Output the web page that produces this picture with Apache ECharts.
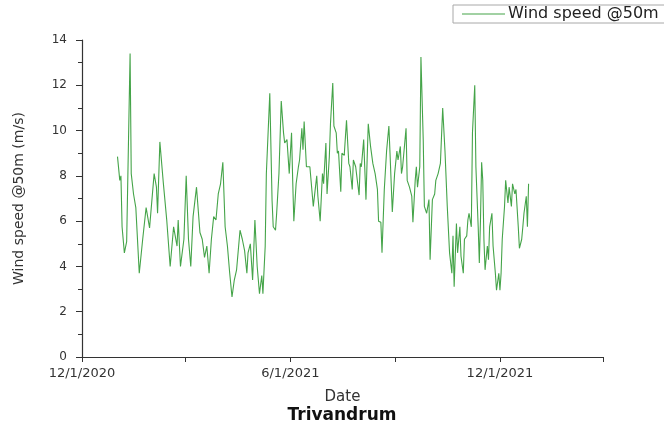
<!DOCTYPE html>
<html>
<head>
<meta charset="utf-8">
<title>Wind speed @50m - Trivandrum</title>
<script src="https://cdn.jsdelivr.net/npm/echarts@6/dist/echarts.min.js"></script>
<style>
  html, body { margin: 0; padding: 0; background: #fff; }
  #chart { width: 664px; height: 425px; }
</style>
</head>
<body>
<div id="chart"></div>
<script>
// days counted from 1 Jan 2021
var dayOffsets = [0, 2, 3, 4, 6, 8, 11, 12, 14, 16, 19, 22, 25, 28, 32, 34, 35, 37, 40, 43,
  46, 49, 52, 53, 55, 58, 60, 62, 64, 66, 69, 72, 74, 76, 78, 80, 82, 84, 86, 88,
  90, 92, 94, 96, 98, 100, 102, 104, 107, 109, 111, 113, 114, 116, 118, 120, 122, 124, 126, 127,
  129, 130, 133, 135, 136, 138, 139, 141, 143, 145, 146, 148, 150, 152, 153, 154, 156, 158, 159, 161,
  162, 163, 165, 168, 171, 174, 175, 177, 179, 180, 182, 183, 185, 186, 188, 189, 191, 192, 193, 195,
  196, 198, 200, 202, 203, 205, 206, 208, 211, 212, 213, 215, 217, 218, 219, 221, 223, 225, 227, 228,
  230, 231, 233, 235, 237, 238, 240, 242, 244, 245, 247, 248, 249, 252, 253, 255, 257, 258, 260, 261,
  262, 264, 265, 267, 268, 270, 272, 273, 275, 277, 278, 280, 282, 284, 286, 288, 290, 292, 293, 294,
  296, 297, 299, 300, 302, 303, 305, 306, 307, 309, 310, 312, 313, 315, 316, 317, 318, 319, 320, 321,
  323, 324, 325, 327, 328, 330, 331, 333, 334, 335, 336, 338, 339, 341, 342, 344, 345, 347, 348, 350,
  351, 353, 354, 355, 357, 358, 359]

// wind speed @50m (m/s)
var windSpeed = [8.85, 7.8, 8.0, 5.75, 4.6, 5.1, 13.4, 8.1, 7.2, 6.6, 3.7, 5.2, 6.6, 5.7, 8.1, 7.5, 6.35, 9.5, 7.7, 6.05,
  4.0, 5.75, 4.9, 6.05, 4.0, 5.2, 8.0, 5.2, 4.0, 6.2, 7.5, 5.5, 5.2, 4.4, 4.9, 3.7, 5.2, 6.2, 6.05, 7.2,
  7.65, 8.6, 5.75, 4.9, 3.7, 2.65, 3.4, 3.85, 5.6, 5.2, 4.7, 3.7, 4.6, 5.0, 3.4, 6.05, 4.0, 2.8, 3.6, 2.8,
  4.9, 8.1, 11.65, 6.9, 5.75, 5.6, 6.35, 8.1, 11.3, 9.9, 9.45, 9.6, 8.1, 9.9, 7.8, 6.0, 7.65, 8.4, 8.7, 10.1,
  9.15, 10.4, 8.4, 8.4, 6.65, 8.0, 7.1, 6.0, 8.1, 7.65, 9.45, 7.2, 8.85, 10.3, 12.1, 10.2, 9.9, 9.0, 9.1, 7.3,
  9.0, 8.9, 10.45, 8.55, 8.4, 7.4, 8.7, 8.4, 7.15, 8.55, 8.4, 9.6, 6.95, 8.7, 10.3, 9.3, 8.55, 8.1, 7.4, 6.0,
  5.95, 4.6, 7.4, 9.1, 10.2, 9.0, 6.4, 8.1, 9.1, 8.7, 9.3, 8.1, 8.4, 10.1, 7.8, 7.5, 7.1, 5.95, 7.8, 8.4,
  7.5, 8.4, 13.25, 9.6, 6.65, 6.35, 6.95, 4.3, 6.95, 7.2, 7.8, 8.1, 8.55, 11.0, 9.1, 6.65, 4.6, 3.7, 5.35, 3.1,
  5.9, 4.6, 5.75, 4.45, 3.7, 5.2, 5.35, 6.05, 6.35, 5.75, 9.9, 12.0, 8.4, 5.75, 4.15, 6.05, 8.6, 7.8, 5.2, 3.85,
  4.9, 4.3, 5.75, 6.35, 4.9, 3.7, 2.95, 3.7, 2.95, 3.7, 5.2, 6.65, 7.8, 6.8, 7.5, 6.65, 7.65, 7.2, 7.4, 5.75,
  4.8, 5.2, 5.75, 6.35, 7.1, 5.75, 7.65]

// x axis ticks (every 3 months) and the labelled ones
var tickDates = ['2020-12-01', '2021-03-01', '2021-06-01', '2021-09-01', '2021-12-01', '2022-03-01']
var labelDates = ['2020-12-01', '2021-06-01', '2021-12-01']
var yTicks = [0, 2, 4, 6, 8, 10, 12, 14]

var DAY = 86400000
var origin = Date.UTC(2020, 11, 1)

// x values are days since 1 Dec 2020
function toDay(s) {
  var p = s.split('-')
  return Math.round((Date.UTC(+p[0], +p[1] - 1, +p[2]) - origin) / DAY)
}
var startOffset = toDay('2021-01-01')

var seriesData = []
for (var i = 0; i < dayOffsets.length; i++) {
  seriesData.push([startOffset + dayOffsets[i], windSpeed[i]])
}

var chart = echarts.init(document.getElementById('chart'))
var font = 'DejaVu Sans, Liberation Sans, sans-serif'
var green = '#45a449'

chart.setOption({
  animation: false,
  textStyle: { fontFamily: font },
  legend: {
    left: 453,
    top: 5,
    padding: [1, 30, 1, 9],
    borderColor: '#a8a8a8',
    borderWidth: 1,
    icon: 'rect',
    itemWidth: 43,
    itemHeight: 1,
    itemGap: 4,
    itemStyle: { color: green },
    textStyle: { fontSize: 16, color: '#222', fontFamily: font, padding: [0, 0, 0, -2] },
    data: ['Wind speed @50m']
  },
  grid: { left: 82, right: 61, top: 40, bottom: 68 },
  xAxis: {
    type: 'value',
    min: toDay(tickDates[0]),
    max: toDay(tickDates[tickDates.length - 1]),
    name: 'Date',
    nameLocation: 'middle',
    nameGap: 33,
    nameTextStyle: { fontSize: 15, color: '#333', fontFamily: font },
    axisLine: { lineStyle: { color: '#333', width: 1.2 } },
    axisTick: {
      show: true,
      length: 5,
      customValues: tickDates.map(toDay),
      lineStyle: { color: '#333' }
    },
    axisLabel: {
      fontSize: 13,
      color: '#333',
      margin: 10,
      fontFamily: font,
      customValues: labelDates.map(toDay),
      formatter: function (v) {
        var d = new Date(origin + v * DAY)
        return (d.getUTCMonth() + 1) + '/' + d.getUTCDate() + '/' + d.getUTCFullYear()
      }
    },
    splitLine: { show: false }
  },
  yAxis: {
    type: 'value',
    min: yTicks[0],
    max: yTicks[yTicks.length - 1],
    interval: 2,
    name: 'Wind speed @50m (m/s)',
    nameLocation: 'middle',
    nameGap: 56,
    nameTextStyle: { fontSize: 14, color: '#333', fontFamily: font },
    axisLine: { show: true, lineStyle: { color: '#333', width: 1.2 } },
    axisTick: { show: true, length: 6, lineStyle: { color: '#333' } },
    minorTick: { show: true, splitNumber: 2, length: 4, lineStyle: { color: '#333' } },
    axisLabel: { fontSize: 12, color: '#333', margin: 15, fontFamily: font },
    splitLine: { show: false }
  },
  series: [
    {
      name: 'Wind speed @50m',
      type: 'line',
      symbol: 'none',
      data: seriesData,
      lineStyle: { color: green, width: 1.1 },
      itemStyle: { color: green }
    }
  ],
  graphic: [
    {
      type: 'text',
      x: 342,
      y: 416,
      style: {
        text: 'Trivandrum',
        font: 'bold 17px ' + font,
        fill: '#111',
        textAlign: 'center',
        textVerticalAlign: 'middle'
      }
    }
  ]
})
</script>
</body>
</html>
